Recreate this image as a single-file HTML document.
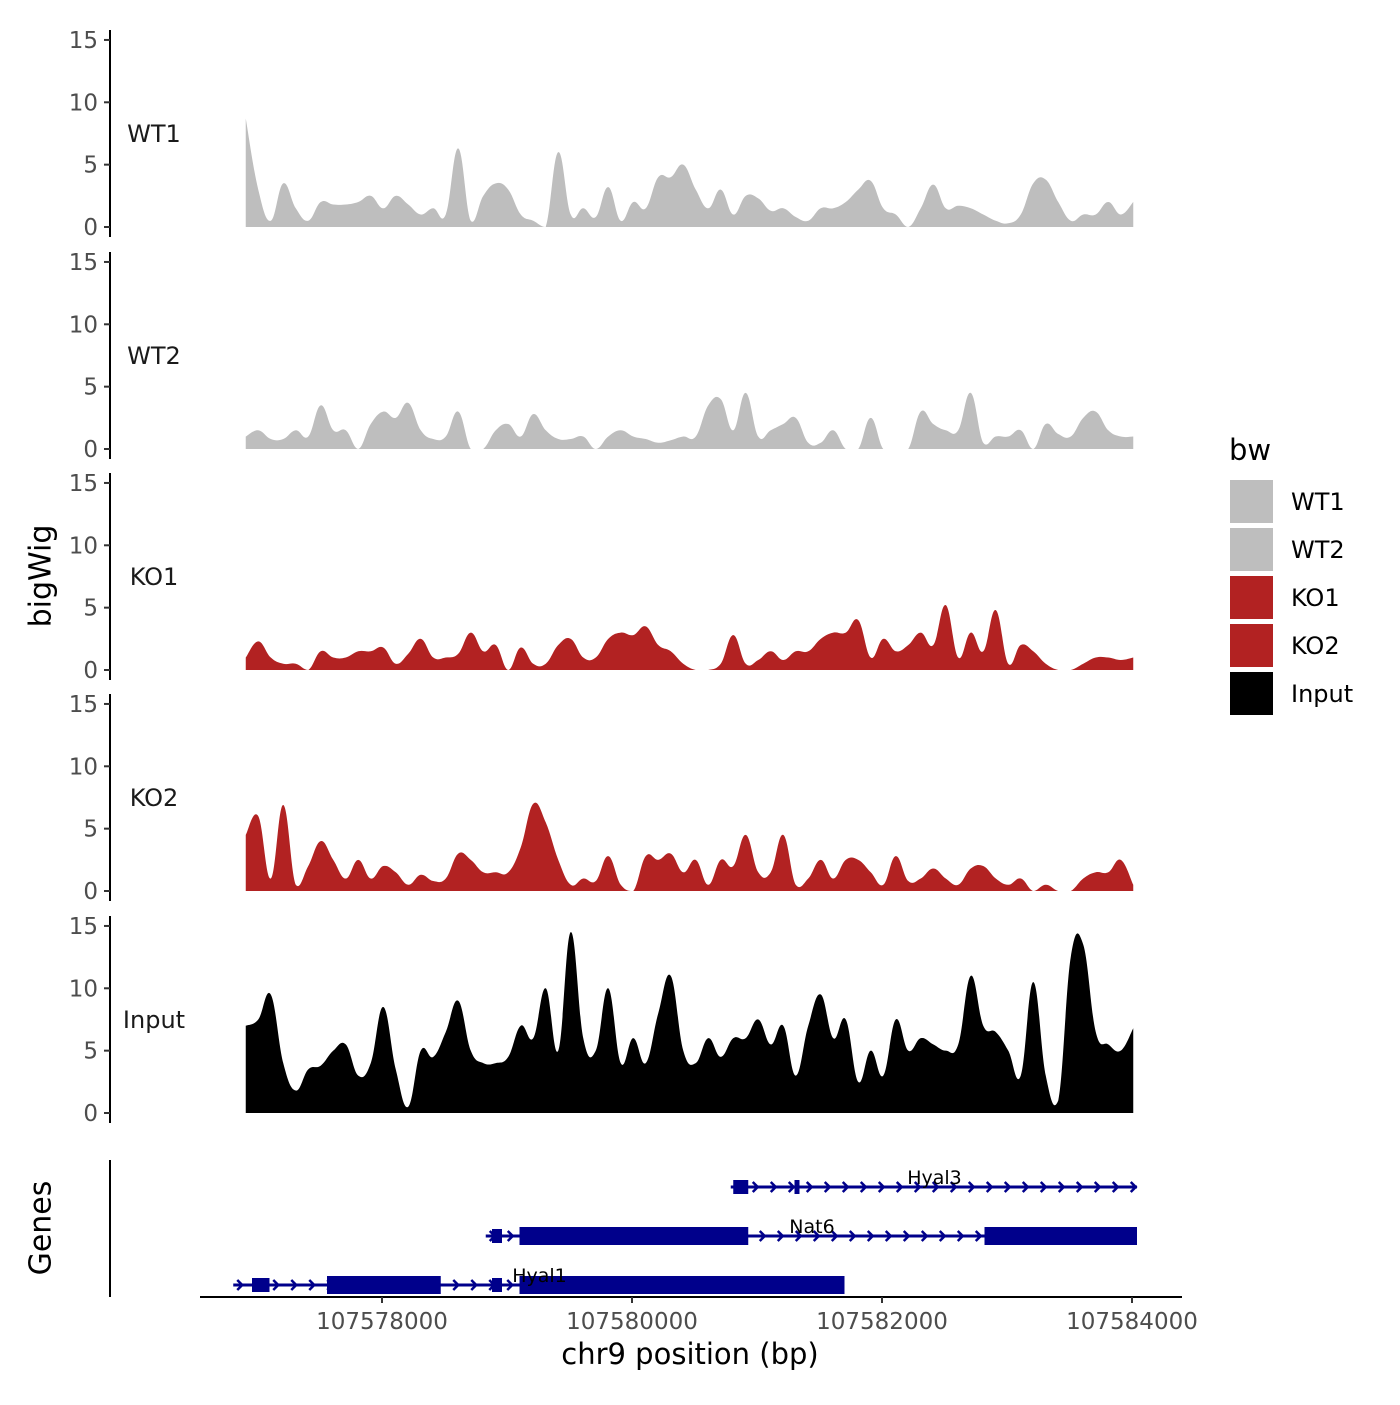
<!DOCTYPE html>
<html><head><meta charset="utf-8"><style>
body{margin:0;background:#fff}
svg{font-family:"DejaVu Sans","Liberation Sans",sans-serif}
</style></head><body>
<svg id="c" width="1400" height="1400" viewBox="0 0 1400 1400">
<g id="tracks"></g>
<g id="genes"></g>
<g id="xaxis"></g>
<text x="42" y="576" font-size="30" text-anchor="middle" dominant-baseline="middle" transform="rotate(-90 42 576)">bigWig</text>
<text x="42" y="1228" font-size="30" text-anchor="middle" dominant-baseline="middle" transform="rotate(-90 42 1228)">Genes</text>
<text x="690" y="1364" font-size="29" text-anchor="middle">chr9 position (bp)</text>
<g id="legend"></g>
</svg>
<script>
const NS="http://www.w3.org/2000/svg";
const trackNames=["WT1","WT2","KO1","KO2","Input"];
const trackColors=["#bebebe","#bebebe","#b22222","#b22222","#000000"];
const binStart=107576910, binStep=100;
const wt1=[8.7,3,0.5,3.5,1.5,0.5,2,1.8,1.8,2,2.5,1.5,2.5,1.8,1,1.5,1,6.3,0.5,2.5,3.5,3,1,0.5,0,6,1,1.5,0.8,3.2,0.5,2,1.5,4,4,5,3,1.5,3,1,2.5,2.3,1.3,1.5,0.8,0.5,1.5,1.5,2,3,3.7,1.5,1,0,1.5,3.4,1.5,1.7,1.5,1,0.5,0.3,1,3.5,3.8,2,0.5,1,1,2,1,2];
const wt2=[1,1.5,0.8,0.8,1.5,1,3.5,1.5,1.5,0,2,3,2.5,3.7,1.5,0.8,1,3,0,0,1.5,2,1,2.8,1.5,0.8,0.8,1,0,1,1.5,1,0.8,0.5,0.7,1,1,3.5,4,1.5,4.5,1,1.5,2,2.5,0.5,0.5,1.5,0,0,2.5,0,0,0,3,2,1.5,1.5,4.5,0.5,1,1,1.5,0,2,1.2,1,2.5,3,1.5,1,1];
const ko1=[1,2.3,1,0.5,0.5,0,1.5,1,1,1.5,1.5,1.8,0.5,1.3,2.5,1,1,1.3,3,1.5,2,0,1.8,0.5,0.5,2,2.5,1,1,2.5,3,2.8,3.5,2,1.5,0.5,0,0,0.5,2.8,0.5,0.8,1.5,0.8,1.5,1.5,2.5,3,3,4,1,2.5,1.5,2,3,2,5.2,1,3,1.5,4.8,0.5,2,1.5,0.5,0,0,0.5,1,1,0.8,1];
const ko2=[4.5,6,1,6.9,0.5,2,4,2.5,1,2.5,1,2,1.5,0.5,1.3,0.8,1,3,2.5,1.5,1.5,1.5,3.5,7,5.5,2.5,0.5,1,0.8,2.8,0.5,0,2.8,2.5,3,1.5,2.5,0.5,2.5,2,4.5,1.5,1.5,4.5,0.5,1,2.5,1,2.5,2.5,1.5,0.5,2.8,0.8,1,1.8,1,0.5,1.8,2,1,0.5,1,0,0.5,0,0,1,1.5,1.5,2.5,0.5];
const input=[7,7.5,9.5,4,1.8,3.5,3.8,5,5.5,3,4,8.5,3.5,0.5,5,4.5,6.5,9,5,4,4,4.5,7,6,10,5,14.5,6,5,10,4,6,4,8,11,5,4,6,4.5,6,6,7.5,5.5,7,3,7,9.5,6,7.5,2.5,5,3,7.5,5,6,5.5,5,5.5,11,7,6.5,5,3,10.5,3,1,12.5,13.5,6.5,5.5,5,6.8];
const series=[wt1,wt2,ko1,ko2,input];
const yTicks=[0,5,10,15];
const xTicks=[107578000,107580000,107582000,107584000];
const geneNames=["Hyal3","Nat6","Hyal1"];
const geneSpans=[[107580790,107584040],[107578830,107584040],[107576810,107581700]];
const geneExons=[[[107580810,107580930],[107581300,107581340]],[[107578880,107578960],[107579100,107580930],[107582820,107584040]],[[107576960,107577100],[107577560,107578470],[107578880,107578960],[107579100,107581700]]];
const geneLabelPos=[107582420,107581440,107579260];

const X=bp=>382+(bp-107578000)*0.125;
const zeroY=[227,449,670,891,1113], pxPerUnit=12.47;
function mk(tag,attrs,parent){const e=document.createElementNS(NS,tag);for(const k in attrs)e.setAttribute(k,attrs[k]);parent.appendChild(e);return e;}
const tg=document.getElementById('tracks');
series.forEach((vals,t)=>{
  const Y=v=>zeroY[t]-v*pxPerUnit;
  const y0=Y(0);
  const pts=vals.map((v,i)=>[X(binStart+i*binStep),Y(v)]);
  let d=`M${pts[0][0]},${y0} L${pts[0][0]},${pts[0][1]}`;
  const n=pts.length,k=0.4;
  for(let i=0;i<n-1;i++){
    const p0=pts[Math.max(0,i-1)],p1=pts[i],p2=pts[i+1],p3=pts[Math.min(n-1,i+2)];
    const c1x=p1[0]+(p2[0]-p0[0])*k/2,c1y=Math.min(y0,p1[1]+(p2[1]-p0[1])*k/2);
    const c2x=p2[0]-(p3[0]-p1[0])*k/2,c2y=Math.min(y0,p2[1]-(p3[1]-p1[1])*k/2);
    d+=` C${c1x},${c1y} ${c2x},${c2y} ${p2[0]},${p2[1]}`;
  }
  d+=` L${pts[n-1][0]},${y0} Z`;
  const p=mk('path',{d:d,fill:trackColors[t]},tg);
  
  
  const ax=mk('line',{x1:110,x2:110,y1:Y(15)-10,y2:Y(0)+10,stroke:'#000','stroke-width':2},tg);
  
  
  yTicks.forEach(v=>{
    mk('line',{x1:104,x2:110,y1:Y(v),y2:Y(v),stroke:'#333','stroke-width':2},tg);
    const tx=mk('text',{x:98,y:Y(v)+8,'font-size':23,'text-anchor':'end',fill:'#4d4d4d'},tg);
    tx.textContent=v;
    
    
  });
  const lb=mk('text',{x:154,y:Y(0)-85,'font-size':24,'text-anchor':'middle',fill:'#1a1a1a'},tg);
  lb.textContent=trackNames[t];
  
  
});
const gg=document.getElementById('genes');
const rowY=[1187,1236,1285], col='#00008b';
geneNames.forEach((g,i)=>{
  const y=rowY[i],[s,e]=geneSpans[i];
  const ln=mk('line',{x1:X(s),x2:X(e),y1:y,y2:y,stroke:col,'stroke-width':3},gg);
  
  
  for(let x=X(s)+4;x<X(e);x+=18){mk('path',{d:`M${x},${y-5} L${x+5},${y} L${x},${y+5}`,fill:'none',stroke:col,'stroke-width':2.5},gg);}
  geneExons[i].forEach(([a,b])=>{
    const w=X(b)-X(a);const h=w>40?18:14;
    const r=mk('rect',{x:X(a),y:y-h/2,width:w,height:h,fill:col},gg);
    
    
  });
  const t=mk('text',{x:X(geneLabelPos[i]),y:y-3,'font-size':19,'text-anchor':'middle',fill:'#000'},gg);
  t.textContent=g;
  
  
});
const xg=document.getElementById('xaxis');
mk('line',{x1:110,x2:110,y1:1160,y2:1297,stroke:'#000','stroke-width':2},xg);
mk('line',{x1:200,x2:1182,y1:1297,y2:1297,stroke:'#000','stroke-width':2},xg);
xTicks.forEach(v=>{
  mk('line',{x1:X(v),x2:X(v),y1:1297,y2:1303,stroke:'#333','stroke-width':2},xg);
  const t=mk('text',{x:X(v),y:1329,'font-size':23,'text-anchor':'middle',fill:'#4d4d4d'},xg);
  t.textContent=v;
  
  
});
const lg=document.getElementById('legend');
const lt=mk('text',{x:1229,y:460,'font-size':29,fill:'#000'},lg);
lt.textContent='bw';


trackNames.forEach((n,i)=>{
  const y=480+i*48;
  const r=mk('rect',{x:1230,y:y,width:43,height:43,fill:trackColors[i]},lg);
  
  
  const t=mk('text',{x:1291,y:y+30,'font-size':24,fill:'#000'},lg);
  t.textContent=n;
  
  
});
</script>
</body></html>
